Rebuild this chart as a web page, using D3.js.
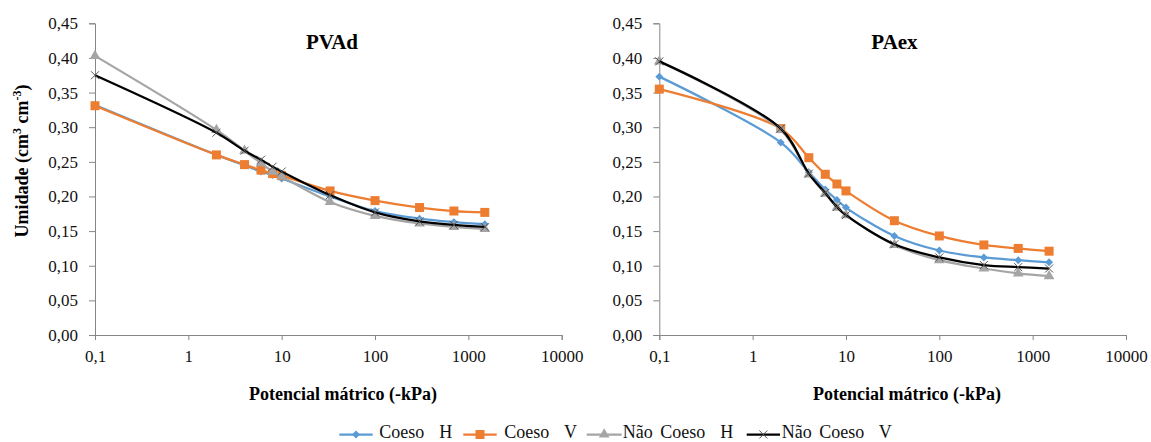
<!DOCTYPE html>
<html><head><meta charset="utf-8">
<script src="https://cdn.jsdelivr.net/npm/d3@7"></script>
</head><body style="margin:0;background:#fff"><svg id="c" width="1151" height="442" font-family="Liberation Serif"></svg>
<script>
const suction = [0.1, 2, 4, 6, 8, 10, 33, 100, 300, 700, 1500];
const seriesNames = ["Coeso  H", "Coeso  V", "Não Coeso  H", "Não Coeso  V"];
const xTicks = [0.1, 1, 10, 100, 1000, 10000];
const xTickLabels = ["0,1", "1", "10", "100", "1000", "10000"];
const yTicks = [0, 0.05, 0.10, 0.15, 0.20, 0.25, 0.30, 0.35, 0.40, 0.45];
const panelTitles = ["PVAd", "PAex"];
// PVAd
const pvadCoesoH = [0.332, 0.260, 0.245, 0.236, 0.231, 0.226, 0.200, 0.179, 0.168, 0.163, 0.160];
const pvadCoesoV = [0.331, 0.260, 0.246, 0.238, 0.233, 0.230, 0.208, 0.194, 0.184, 0.179, 0.177];
const pvadNaoH   = [0.403, 0.296, 0.266, 0.248, 0.236, 0.229, 0.192, 0.172, 0.161, 0.156, 0.153];
const pvadNaoV   = [0.375, 0.292, 0.266, 0.253, 0.243, 0.236, 0.202, 0.177, 0.164, 0.159, 0.156];
// PAex
const paexCoesoH = [0.373, 0.278, 0.235, 0.210, 0.195, 0.184, 0.143, 0.122, 0.112, 0.108, 0.105];
const paexCoesoV = [0.355, 0.298, 0.256, 0.232, 0.218, 0.208, 0.165, 0.143, 0.130, 0.125, 0.121];
const paexNaoH   = [0.395, 0.296, 0.232, 0.204, 0.184, 0.173, 0.130, 0.108, 0.096, 0.089, 0.085];
const paexNaoV   = [0.395, 0.298, 0.233, 0.205, 0.185, 0.173, 0.131, 0.112, 0.101, 0.098, 0.096];

const colors = ["#5B9BD5", "#ED7D31", "#A5A5A5", "#000000"];
const markers = ["diamond", "square", "triangle", "x"];
const panels = [
  {title: panelTitles[0], x0: 95, x1: 561.7, titleX: 332, xTitleX: 343, data: [pvadCoesoH, pvadCoesoV, pvadNaoH, pvadNaoV]},
  {title: panelTitles[1], x0: 659.3, x1: 1126, titleX: 894.5, xTitleX: 907, data: [paexCoesoH, paexCoesoV, paexNaoH, paexNaoV]}
];
const svg = d3.select("#c");
const FONT = "Liberation Serif";
const axisColor = "#868686";
const y = d3.scaleLinear().domain([0, 0.45]).range([335, 23.3]);

function setFont(sel) { return sel.attr("font-family", FONT).style("font-family", `"${FONT}"`); }

function drawMarker(g, type, cx, cy, color) {
  if (type === "diamond") {
    g.append("path").attr("d", d3.symbol(d3.symbolDiamond2, 40)()).attr("transform", `translate(${cx},${cy})`)
      .attr("fill", color);
  } else if (type === "square") {
    g.append("rect").attr("x", cx - 4.5).attr("y", cy - 4.5).attr("width", 9).attr("height", 9).attr("fill", color);
  } else if (type === "triangle") {
    g.append("path").attr("d", d3.symbol(d3.symbolTriangle, 50)()).attr("transform", `translate(${cx},${cy})`).attr("fill", color);
  } else {
    g.append("path").attr("d", `M${cx-4},${cy-4}L${cx+4},${cy+4}M${cx-4},${cy+4}L${cx+4},${cy-4}`)
      .attr("stroke", "#555").attr("stroke-width", 1).attr("fill", "none");
  }
}

panels.forEach(p => {
  const x = d3.scaleLog().domain([0.1, 10000]).range([p.x0, p.x1]);
  const g = svg.append("g");
  const ya = g.append("g").attr("transform", `translate(${p.x0},0)`)
    .call(d3.axisLeft(y).tickValues(yTicks).tickSize(6).tickPadding(11)
      .tickFormat(d => d3.format(".2f")(d).replace(".", ",")));
  ya.attr("font-family", FONT);
  ya.select(".domain").attr("stroke", axisColor).attr("stroke-width", 1);
  ya.selectAll(".tick line").attr("stroke", axisColor);
  setFont(ya.selectAll(".tick text")).attr("font-size", 17).attr("fill", "#111");
  const xa = g.append("g").attr("transform", `translate(0,335)`)
    .call(d3.axisBottom(x).tickValues(xTicks).tickSize(5).tickPadding(7)
      .tickFormat((d, i) => xTickLabels[i]));
  xa.attr("font-family", FONT);
  xa.select(".domain").attr("stroke", axisColor).attr("stroke-width", 1);
  xa.selectAll(".tick line").attr("stroke", axisColor);
  setFont(xa.selectAll(".tick text")).attr("font-size", 17).attr("fill", "#111")
    .attr("y", 26.7).attr("dy", 0);
  setFont(g.append("text")).attr("x", p.titleX).attr("y", 48.5).attr("text-anchor", "middle")
    .attr("font-weight", "bold").attr("font-size", 21).text(p.title);
  setFont(g.append("text")).attr("x", p.xTitleX).attr("y", 399.5).attr("text-anchor", "middle")
    .attr("font-weight", "bold").attr("font-size", 18).text("Potencial mátrico (-kPa)");
  const line = d3.line().x((d, i) => x(suction[i])).y(d => y(d)).curve(d3.curveCatmullRom.alpha(0.5));
  p.data.forEach((vals, si) => {
    g.append("path").attr("d", line(vals)).attr("fill", "none").attr("stroke", colors[si]).attr("stroke-width", 2.25);
    const mg = g.append("g");
    vals.forEach((v, i) => drawMarker(mg, markers[si], x(suction[i]), y(v), colors[si]));
  });
});

const yt = setFont(svg.append("text")).attr("transform", "translate(27.5,161) rotate(-90)").attr("text-anchor", "middle")
  .attr("font-weight", "bold").attr("font-size", 18);
yt.append("tspan").text("Umidade (cm");
yt.append("tspan").attr("dy", -7).attr("font-size", 12).text("3");
yt.append("tspan").attr("dy", 7).text(" cm");
yt.append("tspan").attr("dy", -7).attr("font-size", 12).text("-3");
yt.append("tspan").attr("dy", 7).text(")");

const legendX = [339.3, 463.3, 586.7, 746.7];
const legendW = [33.4, 33.4, 35, 33.3];
const legendTextX = [379.3, 504.3, 622.7, 781.7];
seriesNames.forEach((n, i) => {
  const lg = svg.append("g");
  lg.append("line").attr("x1", legendX[i]).attr("x2", legendX[i] + legendW[i]).attr("y1", 434.5).attr("y2", 434.5)
    .attr("stroke", colors[i]).attr("stroke-width", 2.25);
  drawMarker(lg, markers[i], legendX[i] + legendW[i] / 2, 434.5, colors[i]);
  setFont(lg.append("text")).attr("x", legendTextX[i]).attr("y", 438).attr("font-size", 18)
    .style("white-space", "pre").style("word-spacing", "3px")
    .attr("fill", "#111").text(n);
});
</script></body></html>
